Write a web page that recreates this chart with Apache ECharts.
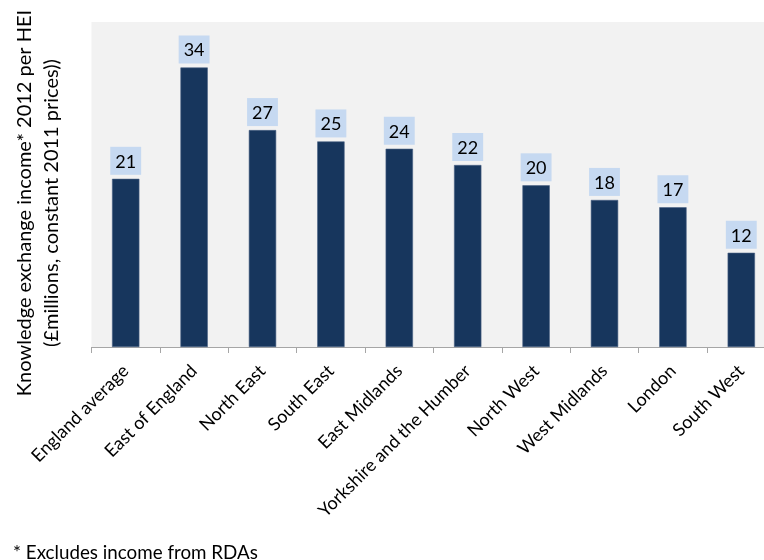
<!DOCTYPE html>
<html>
<head>
<meta charset="utf-8">
<script src="https://cdn.jsdelivr.net/npm/echarts@6/dist/echarts.min.js"></script>
<style>
html,body{margin:0;padding:0;background:#fff;}
#c{width:764px;height:560px;}
</style>
</head>
<body>
<div id="c"></div>
<script>
const categories = ["England average","East of England","North East","South East","East Midlands","Yorkshire and the Humber","North West","West Midlands","London","South West"];
const values = [20.7, 34.4, 26.7, 25.3, 24.4, 22.4, 19.9, 18.1, 17.2, 11.6];
const yTitleLines = ["Knowledge exchange income* 2012 per HEI", "(£millions, constant 2011 prices))"];
const footnote = "* Excludes income from RDAs";

const FONT = "Lato";
const chart = echarts.init(document.getElementById('c'), null, {renderer: 'canvas'});
chart.setOption({
  animation: false,
  backgroundColor: '#ffffff',
  grid: {
    left: 91.5, top: 22, height: 325, width: 684,
    outerBoundsMode: 'none', containLabel: false,
    show: true, backgroundColor: '#f2f2f2', borderWidth: 0
  },
  xAxis: {
    type: 'category',
    data: categories,
    axisLine: {lineStyle: {color: '#a6a6a6', width: 1}},
    axisTick: {show: true, length: 6, alignWithLabel: false, lineStyle: {color: '#a6a6a6'}},
    axisLabel: {interval: 0, rotate: 45, margin: 21, fontSize: 18, color: '#000', fontFamily: FONT}
  },
  yAxis: {
    type: 'value', min: 0, max: 40, show: false, splitLine: {show: false}
  },
  series: [{
    type: 'bar',
    data: values,
    barWidth: '40%',
    itemStyle: {color: '#17365d', borderColor: '#4a6185', borderWidth: 0.6},
    label: {
      show: true, position: 'top', distance: 4,
      formatter: p => String(Math.round(p.value)),
      backgroundColor: '#c6d9f1', padding: [5, 5, 3, 5],
      fontSize: 18, lineHeight: 20, color: '#000', fontFamily: FONT
    }
  }],
  graphic: [
    {
      type: 'text', x: 38.5, y: 203, rotation: Math.PI / 2,
      style: {
        text: yTitleLines.join('\n'), align: 'center', verticalAlign: 'middle',
        fontSize: 20, lineHeight: 27, fill: '#000', fontFamily: FONT
      }
    },
    {
      type: 'text', x: 13, y: 553,
      style: {
        text: footnote, align: 'left', verticalAlign: 'middle',
        fontSize: 18.8, fill: '#000', fontFamily: FONT
      }
    }
  ]
});
</script>
</body>
</html>
